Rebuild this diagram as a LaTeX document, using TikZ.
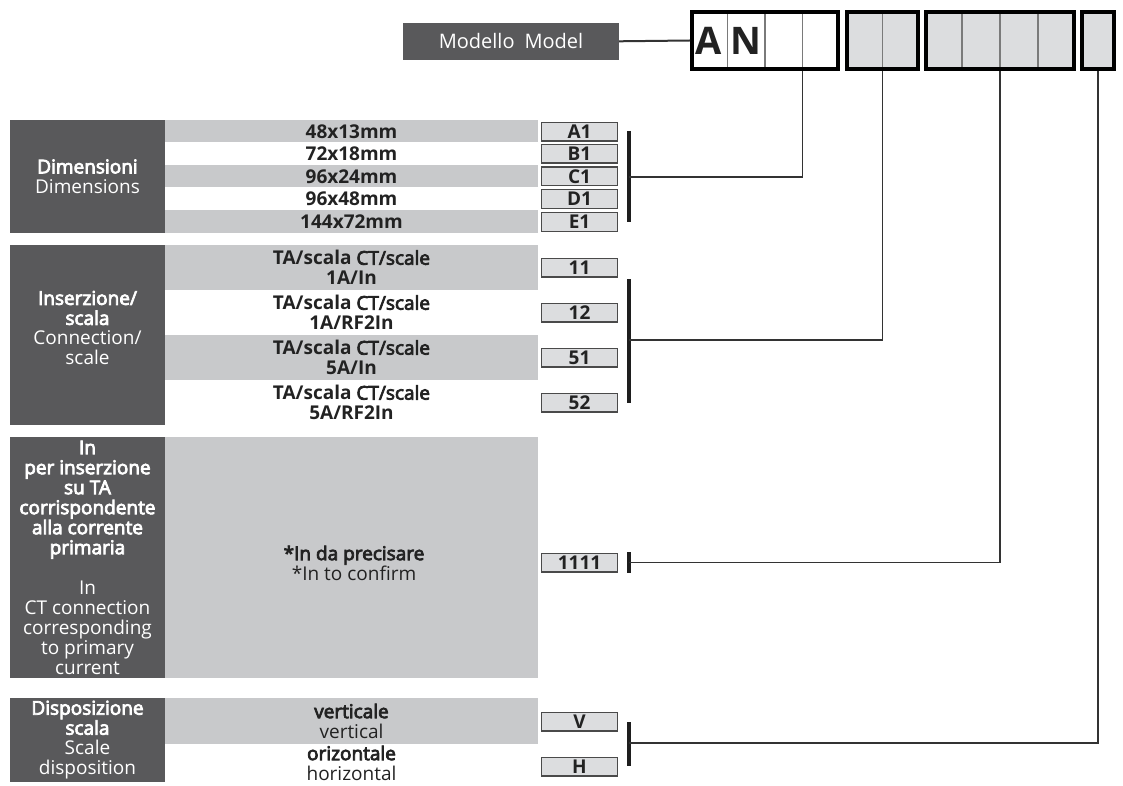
\documentclass[tikz,border=0pt]{standalone}
\usepackage{fontspec}
\setmainfont{Open Sans}
\newfontfamily\medfont{Open Sans}[FakeBold=4]
\newcommand{\md}[1]{{\medfont #1}}
\definecolor{darkbox}{HTML}{59595B}
\definecolor{rowgray}{HTML}{C8C9CB}
\definecolor{codegray}{HTML}{DCDDDF}
\definecolor{codeedge}{HTML}{4A4A4A}
\definecolor{lineclr}{HTML}{333333}
\definecolor{barclr}{HTML}{1E1E1E}
\definecolor{divclr}{HTML}{7A7A7A}
\definecolor{txtclr}{HTML}{222222}
\begin{document}
\begin{tikzpicture}[x=1pt,y=-1pt,
  txt/.style={font=\fontsize{19}{20}\selectfont, align=center, inner sep=0pt, text=txtclr},
  hdr/.style={txt, fill=darkbox, text=white},
  rowbox/.style={txt, minimum width=373pt},
  code/.style={draw=codeedge, line width=1.3pt, fill=codegray, minimum width=75.5pt, minimum height=18.7pt, inner sep=0pt, text=txtclr, font=\bfseries\fontsize{19}{19}\selectfont},
  conn/.style={draw=lineclr, line width=1.5pt},
  bar/.style={draw=barclr, line width=4pt},
  frame/.style={draw=black, line width=4pt, inner sep=0pt, minimum height=57pt},
  divider/.style={draw=divclr, line width=1.2pt},
  letter/.style={font=\bfseries\fontsize{38}{38}\selectfont, inner sep=0pt, text=txtclr}]
\useasboundingbox (0,0) rectangle (1123,786);

% ---- model code header ----
\node[hdr, minimum width=216pt, minimum height=37.5pt, font=\fontsize{20}{20}\selectfont] (model) at (511,41.3) {Modello\enspace Model};
\node[frame, fill=white, minimum width=146pt] (grp1) at (765,40.5) {};
\node[frame, fill=codegray, minimum width=71pt] (grp2) at (882.5,40.5) {};
\node[frame, fill=codegray, minimum width=148pt] (grp3) at (1000,40.5) {};
\node[frame, fill=codegray, minimum width=32pt] (grp4) at (1098,40.5) {};
\foreach \xd in {727.5,765,802.5,882.5,962,1000,1038}
  \draw[divider] (\xd,12.2) -- (\xd,68.8);
\node[frame, minimum width=146pt] at (765,40.5) {};
\node[frame, minimum width=71pt] at (882.5,40.5) {};
\node[frame, minimum width=148pt] at (1000,40.5) {};
\node[frame, minimum width=32pt] at (1098,40.5) {};
\node[letter] (la) at (708.75,41) {A};
\node[letter] (ln) at (746.25,41) {N};
\draw[conn, line width=2pt] (model.east) -- (grp1.west);
\coordinate (t1) at (802.5,71);
\coordinate (t2) at (882.5,71);
\coordinate (t3) at (1000,71);
\coordinate (t4) at (1098,71);

% ---- section 1: dimensions ----
\node[hdr, minimum width=155pt, minimum height=113pt] (dim) at (87.5,176.5) {\md{Dimensioni}\\Dimensions};
\node[rowbox, fill=rowgray, minimum height=22.5pt] (r11) at (351.5,131.25) {\textbf{48x13mm}};
\node[rowbox, minimum height=22.5pt] (r12) at (351.5,153.75) {\textbf{72x18mm}};
\node[rowbox, fill=rowgray, minimum height=22.5pt] (r13) at (351.5,176.25) {\textbf{96x24mm}};
\node[rowbox, minimum height=22.5pt] (r14) at (351.5,198.75) {\textbf{96x48mm}};
\node[rowbox, fill=rowgray, minimum height=23pt] (r15) at (351.5,221.5) {\textbf{144x72mm}};
\node[code] (cA1) at (579.5,131.8) {A1};
\node[code] (cB1) at (579.5,153.8) {B1};
\node[code] (cC1) at (579.5,176.5) {C1};
\node[code] (cD1) at (579.5,199) {D1};
\node[code] (cE1) at (579.5,222) {E1};
\draw[bar] (629,131) -- (629,222);
\coordinate (b1) at (629,177);
\draw[conn] (b1) -| (t1);

% ---- section 2: connection / scale ----
\fill[darkbox] (10,245) rectangle (165,425);
\node[hdr, fill=none] (ins) at (87.5,328) {\md{Inserzione/}\\\md{scala}\\Connection/\\scale};
\node[rowbox, fill=rowgray, minimum height=45pt] (r21) at (351.5,267.5) {\textbf{TA/scala} \md{CT/scale}\\\textbf{1A/In}};
\node[rowbox, minimum height=45pt] (r22) at (351.5,312.5) {\textbf{TA/scala} \md{CT/scale}\\\textbf{1A/RF2In}};
\node[rowbox, fill=rowgray, minimum height=45pt] (r23) at (351.5,357.5) {\textbf{TA/scala} \md{CT/scale}\\\textbf{5A/In}};
\node[rowbox, minimum height=45pt] (r24) at (351.5,402.5) {\textbf{TA/scala} \md{CT/scale}\\\textbf{5A/RF2In}};
\node[code] (c11) at (579.5,267.5) {11};
\node[code] (c12) at (579.5,312.5) {12};
\node[code] (c51) at (579.5,357.5) {51};
\node[code] (c52) at (579.5,402.5) {52};
\draw[bar] (629,279) -- (629,403);
\coordinate (b2) at (629,340);
\draw[conn] (b2) -| (t2);

% ---- section 3: In ----
\node[hdr, minimum width=155pt, minimum height=241pt] (inom) at (87.5,557.5) {\md{In}\\\md{per inserzione}\\\md{su TA}\\\md{corrispondente}\\\md{alla corrente}\\\md{primaria}\\[20pt]In\\CT connection\\corresponding\\to primary\\current};
\node[rowbox, fill=rowgray, minimum height=241pt] (r31) at (351.5,557.5) {};
\node[txt] (r31t) at (354,563) {\md{*In da precisare}\\*In to confirm};
\node[code] (c1111) at (579.5,562.5) {1111};
\draw[bar] (629,552) -- (629,573);
\coordinate (b3) at (629,562.5);
\draw[conn] (b3) -| (t3);

% ---- section 4: scale disposition ----
\node[hdr, minimum width=155pt, minimum height=84pt] (disp) at (87.5,740) {\md{Disposizione}\\\md{scala}\\Scale\\disposition};
\node[rowbox, fill=rowgray, minimum height=46pt] (r41) at (351.5,721) {\md{verticale}\\vertical};
\node[rowbox, minimum height=38pt] (r42) at (351.5,763) {\md{orizontale}\\horizontal};
\node[code] (cV) at (579.5,721.5) {V};
\node[code] (cH) at (579.5,766.5) {H};
\draw[bar] (629,722) -- (629,766);
\coordinate (b4) at (629,743);
\draw[conn] (b4) -| (t4);
\end{tikzpicture}
\end{document}
